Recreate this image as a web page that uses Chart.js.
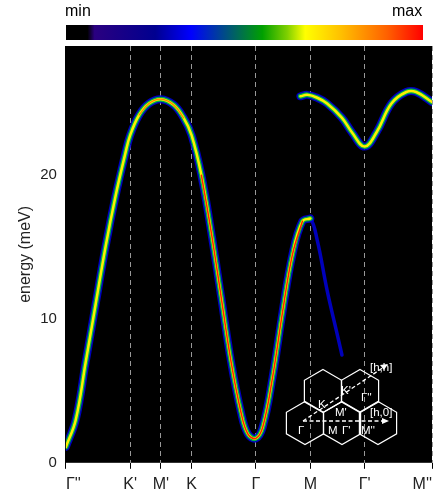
<!DOCTYPE html>
<html><head><meta charset="utf-8">
<script src="https://cdn.jsdelivr.net/npm/chart.js@4"></script>
<style>
html,body{margin:0;padding:0;background:#fff;width:438px;height:500px;overflow:hidden;font-family:"Liberation Sans",Arial,sans-serif}
#wrap{position:relative;width:438px;height:500px}
#bar{position:absolute;left:66px;top:25px;width:357px;height:15px;background:linear-gradient(to right,#000 0%,#000 6%,#2a0080 8%,#000090 25%,#0000ff 35%,#00a000 55%,#80d000 62%,#ffff00 67%,#ffc000 77%,#ff6000 90%,#ff0000 100%)}
.lbl{position:absolute;font-size:16px;color:#000}
svg{position:absolute;left:0;top:0}
</style></head><body><div id="wrap">
<canvas id="c" width="438" height="500"></canvas>
<div id="bar"></div>
<div class="lbl" style="left:65px;top:2px">min</div>
<div class="lbl" style="left:392px;top:2px">max</div>
<svg width="438" height="500" font-family="Liberation Sans,Arial" font-size="11.5" fill="#fff">
<g id="hex" fill="none" stroke="#fff" stroke-width="1.2"></g>
<g stroke="#fff" stroke-width="1.3" stroke-dasharray="4,2.5">
<line x1="303" y1="421" x2="384" y2="421"/><line x1="303" y1="421" x2="384" y2="367"/></g>
<polygon points="389,421 382,418 382,424" fill="#fff"/>
<polygon points="388,364 380,365 384,370" fill="#fff"/>
<text x="370" y="371">[h,h]</text><text x="370" y="416">[h,0]</text>
<text x="318" y="408">K</text><text x="341" y="394">K'</text><text x="361" y="401">Γ''</text>
<text x="335" y="416">M'</text><text x="298" y="434">Γ</text><text x="328" y="434">M</text>
<text x="342" y="434">Γ'</text><text x="361" y="434">M''</text>
</svg>
</div>
<script>
const tickPos=[0,65,96,127,192,247,302,370];
const tickLabels=["Γ''","K'","M'","K","Γ","M","Γ'","M''"];
const b1x=[0,10,20,30,40,50,60,65,74,84,96,109,119,127,137,147,157,167,177,184,192,199,209,219,229,239,247,254,264,274,279];
const b1y=[1.1,3,7,11,15,18.5,21.5,22.8,24.2,25,25.3,24.9,24,22.8,20,16,11.5,7,3.5,2,1.7,2.5,6,10.5,14.5,16.8,17,15.5,12,9,7.5];
const b2x=[237,244,254,264,279,289,302,314,329,344,354,370];
const b2y=[25.5,25.6,25.4,25.0,24,23,22,23,25,25.8,25.8,25.1];
const pts=(xs,ys,a,b)=>xs.map((x,i)=>({x,y:ys[i]})).filter(p=>p.x>=a&&p.x<=b);
function layer(xs,ys,a,b,color,w){return{data:pts(xs,ys,a,b),borderColor:color,borderWidth:w,pointRadius:0,tension:0.4,fill:false,borderCapStyle:'round'};}
const ds=[
layer(b1x,b1y,0,250,'rgba(0,0,220,0.85)',8),
layer(b1x,b1y,239,279,'rgba(0,0,220,0.85)',3.5),
layer(b1x,b1y,0,250,'rgba(0,190,60,0.95)',5),
layer(b2x,b2y,237,370,'rgba(0,0,220,0.85)',8),
layer(b2x,b2y,237,370,'rgba(0,190,60,0.95)',5),
layer(b1x,b1y,0,247,'#ffee00',2.5),
layer(b2x,b2y,237,370,'#ffee00',2.5),
layer(b1x,b1y,74,119,'#ff8000',1.2),
layer(b1x,b1y,137,239,'#ff2000',1.5)
].reverse();
const hx=[[323,391],[360,391],[305,423],[342,423],[378,423]];
let s='';const r=21.5;
hx.forEach(([cx,cy])=>{let p=[];for(let k=0;k<6;k++){const a=Math.PI/180*(60*k-90);p.push((cx+r*Math.cos(a)).toFixed(1)+','+(cy+r*Math.sin(a)).toFixed(1));}s+=`<polygon points="${p.join(' ')}"/>`;});
document.getElementById('hex').innerHTML=s;
const bg={id:'bg',beforeDraw(c){const a=c.chartArea,x=c.ctx;x.save();x.fillStyle='#000';x.fillRect(a.left,a.top,a.right-a.left,a.bottom-a.top);x.restore();}};
new Chart(document.getElementById('c'),{type:'line',data:{datasets:ds},plugins:[bg],
options:{responsive:false,animation:false,layout:{padding:{top:46,right:2,left:14,bottom:0}},
plugins:{legend:{display:false},tooltip:{enabled:false}},
scales:{
x:{type:'linear',min:0,max:370,afterBuildTicks:s=>{s.ticks=tickPos.map(v=>({value:v}));},
ticks:{autoSkip:false,maxRotation:0,align:'inner',color:'#222',font:{size:16},padding:6,callback:(v)=>tickLabels[tickPos.indexOf(v)]},
grid:{color:'#999',lineWidth:1,tickLength:6,tickColor:'#000'},border:{dash:[5,4],display:false}},
y:{min:0,max:29,afterBuildTicks:s=>{s.ticks=[0,10,20].map(v=>({value:v}));},
ticks:{color:'#222',font:{size:15}},grid:{display:false,drawTicks:true,tickLength:6,tickColor:'#000'},border:{display:true,color:'#000'},
title:{display:true,text:'energy (meV)',color:'#222',font:{size:16},padding:2}}
}}});
</script></body></html>
